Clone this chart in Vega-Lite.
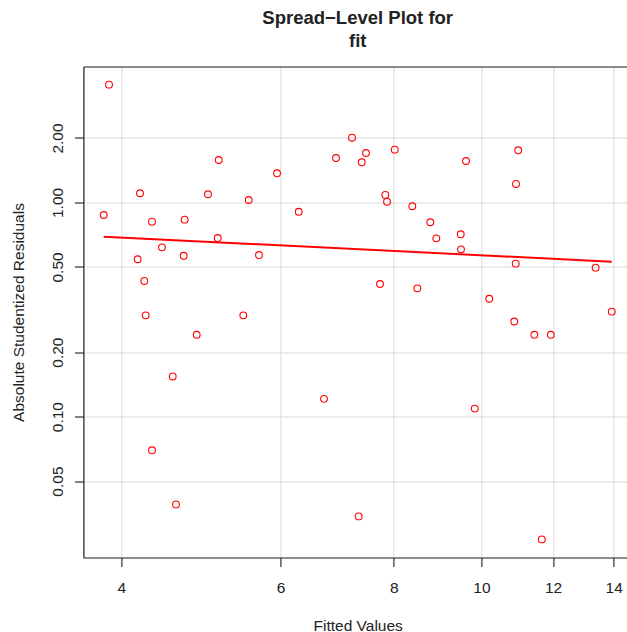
{
  "$schema": "https://vega.github.io/schema/vega-lite/v6.json",
  "autosize": "none",
  "width": 543.6,
  "height": 491,
  "padding": {"left": 83.4, "top": 66.5, "right": 0, "bottom": 74.5},
  "background": "white",
  "view": {"stroke": null},
  "title": {
    "text": ["Spread\u2212Level Plot for", "fit"],
    "font": "Liberation Sans",
    "fontSize": 18.5,
    "fontWeight": "bold",
    "color": "#222222",
    "anchor": "middle",
    "frame": "group",
    "dx": 2.5,
    "baseline": "alphabetic",
    "lineHeight": 22.7,
    "offset": 1.1
  },
  "datasets": {
    "pts": [
      {"fitted": 3.877, "resid": 3.548},
      {"fitted": 5.125, "resid": 1.579},
      {"fitted": 5.945, "resid": 1.368},
      {"fitted": 4.195, "resid": 1.104},
      {"fitted": 4.987, "resid": 1.092},
      {"fitted": 5.531, "resid": 1.027},
      {"fitted": 3.825, "resid": 0.874},
      {"fitted": 4.325, "resid": 0.813},
      {"fitted": 4.700, "resid": 0.831},
      {"fitted": 5.112, "resid": 0.682},
      {"fitted": 4.436, "resid": 0.617},
      {"fitted": 4.170, "resid": 0.543},
      {"fitted": 4.688, "resid": 0.564},
      {"fitted": 5.678, "resid": 0.568},
      {"fitted": 4.241, "resid": 0.430},
      {"fitted": 4.256, "resid": 0.297},
      {"fitted": 5.456, "resid": 0.297},
      {"fitted": 7.194, "resid": 2.006},
      {"fitted": 6.907, "resid": 1.613},
      {"fitted": 7.455, "resid": 1.702},
      {"fitted": 7.374, "resid": 1.540},
      {"fitted": 8.020, "resid": 1.764},
      {"fitted": 9.614, "resid": 1.562},
      {"fitted": 6.282, "resid": 0.905},
      {"fitted": 7.830, "resid": 1.084},
      {"fitted": 7.864, "resid": 1.008},
      {"fitted": 8.387, "resid": 0.960},
      {"fitted": 8.780, "resid": 0.808},
      {"fitted": 8.915, "resid": 0.680},
      {"fitted": 9.486, "resid": 0.710},
      {"fitted": 9.493, "resid": 0.604},
      {"fitted": 7.725, "resid": 0.416},
      {"fitted": 8.494, "resid": 0.397},
      {"fitted": 10.98, "resid": 1.752},
      {"fitted": 10.92, "resid": 1.220},
      {"fitted": 10.91, "resid": 0.518},
      {"fitted": 13.37, "resid": 0.496},
      {"fitted": 10.20, "resid": 0.355},
      {"fitted": 13.93, "resid": 0.309},
      {"fitted": 10.87, "resid": 0.278},
      {"fitted": 4.846, "resid": 0.241},
      {"fitted": 4.559, "resid": 0.154},
      {"fitted": 6.699, "resid": 0.121},
      {"fitted": 4.325, "resid": 0.0696},
      {"fitted": 4.597, "resid": 0.0389},
      {"fitted": 11.44, "resid": 0.241},
      {"fitted": 11.93, "resid": 0.241},
      {"fitted": 9.830, "resid": 0.109},
      {"fitted": 7.318, "resid": 0.0342},
      {"fitted": 11.66, "resid": 0.0267}
    ],
    "fitline": [
      {"fitted": 3.825, "resid": 0.692},
      {"fitted": 13.93, "resid": 0.529}
    ]
  },
  "config": {
    "font": "Liberation Sans",
    "axis": {
      "labelFont": "Liberation Sans",
      "titleFont": "Liberation Sans",
      "labelFontSize": 15.5,
      "titleFontSize": 15.5,
      "titleFontWeight": "normal",
      "labelColor": "#222222",
      "titleColor": "#222222",
      "gridColor": "#d9d9d9",
      "gridWidth": 1,
      "domainColor": "#1a1a1a",
      "domainWidth": 1.2,
      "tickColor": "#333333",
      "tickWidth": 1.2,
      "tickSize": 9
    }
  },
  "resolve": {"axis": {"x": "independent"}},
  "layer": [
    {
      "data": {"name": "pts"},
      "mark": {"type": "point", "shape": "circle", "filled": false, "color": "#ff0000", "strokeWidth": 1.1, "size": 46, "opacity": 1},
      "encoding": {
        "x": {
          "field": "fitted", "type": "quantitative",
          "scale": {"type": "log", "domain": [3.6324, 14.481], "nice": false, "zero": false},
          "axis": {
            "orient": "bottom",
            "values": [4, 6, 8, 10, 12, 14],
            "format": "d",
            "title": "Fitted Values",
            "labelBaseline": "alphabetic",
            "labelPadding": 26.2,
            "labelFlush": false,
            "labelOverlap": false,
            "titleX": 274.3,
            "titleY": 72.5,
            "titleBaseline": "alphabetic",
            "titleAlign": "center",
            "titleAnchor": null
          }
        },
        "y": {
          "field": "resid", "type": "quantitative",
          "scale": {"type": "log", "domain": [0.02198, 4.314], "nice": false, "zero": false},
          "axis": {
            "values": [0.05, 0.1, 0.2, 0.5, 1, 2],
            "format": ".2f",
            "title": "Absolute Studentized Residuals",
            "labelAngle": -90,
            "labelAlign": "center",
            "labelBaseline": "alphabetic",
            "labelPadding": 12.4,
            "labelFlush": false,
            "labelOverlap": false,
            "titleAngle": -90,
            "titleX": -59.9,
            "titleY": 245.5,
            "titleAlign": "center",
            "titleBaseline": "alphabetic",
            "titleAnchor": null
          }
        }
      }
    },
    {
      "data": {"name": "fitline"},
      "mark": {"type": "line", "color": "#ff0000", "strokeWidth": 2},
      "encoding": {
        "x": {
          "field": "fitted", "type": "quantitative",
          "axis": {"orient": "top", "labels": false, "ticks": false, "grid": false, "domain": true, "title": null}
        },
        "y": {"field": "resid", "type": "quantitative"}
      }
    }
  ]
}
